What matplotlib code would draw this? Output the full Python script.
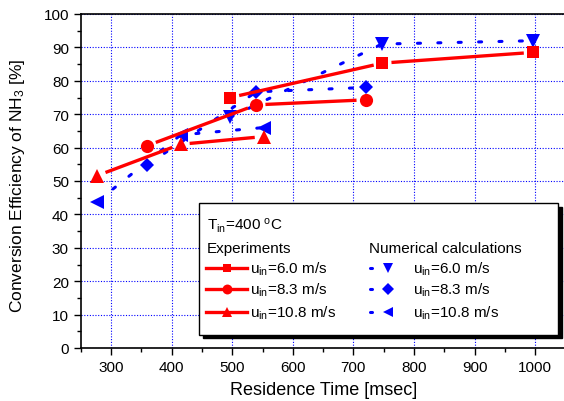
import matplotlib
matplotlib.use("Agg")
import matplotlib.pyplot as plt
import numpy as np
from matplotlib.lines import Line2D
from matplotlib.patches import Rectangle
from matplotlib.ticker import MultipleLocator

plt.rcParams["font.family"] = ["Liberation Sans", "DejaVu Sans"]
plt.rcParams["mathtext.fontset"] = "custom"
plt.rcParams["mathtext.rm"] = "Liberation Sans"
plt.rcParams["mathtext.it"] = "Liberation Sans:italic"

# Experiments (red, solid)
exp_60_t = [497, 748, 996]
exp_60_y = [75.0, 85.3, 88.5]
exp_83_t = [360, 540, 720]
exp_83_y = [60.6, 72.8, 74.3]
exp_108_t = [277, 415, 552]
exp_108_y = [51.6, 61.0, 63.3]

# Numerical calculations (blue, dotted)
num_60_t = [497, 747, 997]
num_60_y = [69.1, 91.0, 92.0]
num_83_t = [360, 540, 720]
num_83_y = [54.9, 76.7, 78.0]
num_108_t = [277, 415, 552]
num_108_y = [43.8, 63.8, 66.0]

W, H = 564, 402
fig = plt.figure(figsize=(W / 100, H / 100), dpi=100)
# axes box in pixels (left, top, right, bottom)
L, T, R, B = 80.7, 15.0, 565.5, 349.0
ax = fig.add_axes([L / W, 1 - B / H, (R - L) / W, (B - T) / H])
ax.set_xlim(250, 1050)
ax.set_ylim(0, 100)

RED = "#ff0000"
BLUE = "#0000ff"
DOTS = dict(linestyle=(0, (1.0, 5.67)), dash_capstyle="round", linewidth=2.2)


def gapped(xs, ys, gap_px=9):
    # shorten each segment near the markers, Origin style
    pts = ax.transData.transform(np.column_stack([xs, ys]))
    inv = ax.transData.inverted()
    segs = []
    for p0, p1 in zip(pts[:-1], pts[1:]):
        d = p1 - p0
        u = d / np.hypot(*d)
        a, b = inv.transform([p0 + u * gap_px, p1 - u * gap_px])
        segs.append((a, b))
    return segs


exp = [(exp_60_t, exp_60_y, "s", 8.5), (exp_83_t, exp_83_y, "o", 9.5),
       (exp_108_t, exp_108_y, "^", 10.5)]
num = [(num_60_t, num_60_y, "v", 10.5), (num_83_t, num_83_y, "D", 7.5),
       (num_108_t, num_108_y, "<", 10.5)]

for xs, ys, m, ms in num:
    ax.plot(xs, ys, color=BLUE, zorder=3, **DOTS)
    ax.plot(xs, ys, linestyle="none", marker=m, markersize=ms, color=BLUE,
            markeredgewidth=0, zorder=4)

for xs, ys, m, ms in exp:
    for a, b in gapped(xs, ys):
        ax.plot([a[0], b[0]], [a[1], b[1]], color=RED, linewidth=2.4,
                solid_capstyle="butt", zorder=5)
    ax.plot(xs, ys, linestyle="none", marker=m, markersize=ms, color=RED,
            markeredgewidth=0, zorder=6)

ax.xaxis.set_major_locator(MultipleLocator(100))
ax.xaxis.set_minor_locator(MultipleLocator(50))
ax.yaxis.set_major_locator(MultipleLocator(10))
ax.yaxis.set_minor_locator(MultipleLocator(5))
ax.set_xticks(range(300, 1001, 100))
ax.grid(True, which="major", color=BLUE, linestyle=(0, (1, 1.5)), linewidth=0.8)
ax.set_axisbelow(True)
ax.tick_params(which="major", direction="out", length=5, width=1, labelsize=11)
ax.tick_params(which="minor", direction="out", length=3, width=1)
for s in ax.spines.values():
    s.set_linewidth(1.2)

ax.set_xlabel("Residence Time [msec]", fontsize=13, va="center")
ax.set_ylabel("Conversion Efficiency of NH$_3$ [%]", fontsize=12.5, va="center")
ax.xaxis.set_label_coords((324 - L) / (R - L), (B - 391) / (B - T))
ax.yaxis.set_label_coords((18 - L) / (R - L), (B - 186) / (B - T))

# legend box drawn by hand
tf = fig.transFigure


def fx(px):
    return px / W


def fy(py):
    return 1 - py / H


bx0, by0, bx1, by1 = 199.3, 204.3, 558.0, 335.7
ax.add_patch(Rectangle((fx(bx0 + 3.5), fy(by1 + 3.5)), fx(bx1 - bx0), (by1 - by0) / H,
                       transform=tf, facecolor="black", edgecolor="black",
                       clip_on=False, zorder=9))
ax.add_patch(Rectangle((fx(bx0), fy(by1)), fx(bx1 - bx0), (by1 - by0) / H,
                       transform=tf, facecolor="white", edgecolor="black",
                       linewidth=1.0, clip_on=False, zorder=10))

fs = 11
ax.text(fx(207), fy(226), r"T$_{\mathrm{in}}$=400 $^{\mathrm{o}}$C", transform=tf,
        fontsize=fs, va="center", ha="left", zorder=11)
ax.text(fx(207), fy(249), "Experiments", transform=tf, fontsize=fs,
        va="center", ha="left", zorder=11)
ax.text(fx(369), fy(249), "Numerical calculations", transform=tf, fontsize=fs,
        va="center", ha="left", zorder=11)

labels = [r"u$_{\mathrm{in}}$=6.0 m/s", r"u$_{\mathrm{in}}$=8.3 m/s",
          r"u$_{\mathrm{in}}$=10.8 m/s"]
rows = [269, 290, 313]
for (xs, ys, m, ms), lab, ry in zip(exp, labels, rows):
    ax.add_line(Line2D([fx(206), fx(247)], [fy(ry), fy(ry)], transform=tf,
                       color=RED, linewidth=2.4, marker=None, clip_on=False,
                       zorder=11))
    ax.add_line(Line2D([fx(226.5)], [fy(ry)], transform=tf, color=RED,
                       marker=m, markersize=ms * 0.75, markeredgewidth=0,
                       linestyle="none", clip_on=False, zorder=12))
    ax.text(fx(250.5), fy(ry), lab, transform=tf, fontsize=fs, va="center",
            ha="left", zorder=11)
for (xs, ys, m, ms), lab, ry in zip(num, labels, rows):
    ax.add_line(Line2D([fx(369.5), fx(372)], [fy(ry), fy(ry)], transform=tf,
                       color=BLUE, linewidth=2.2, solid_capstyle="round",
                       clip_on=False, zorder=11))
    ax.add_line(Line2D([fx(388)], [fy(ry)], transform=tf, color=BLUE,
                       marker=m, markersize=ms * 0.75, markeredgewidth=0,
                       linestyle="none", clip_on=False, zorder=12))
    ax.text(fx(413), fy(ry), lab, transform=tf, fontsize=fs, va="center",
            ha="left", zorder=11)

fig.savefig("out.png", dpi=100)
